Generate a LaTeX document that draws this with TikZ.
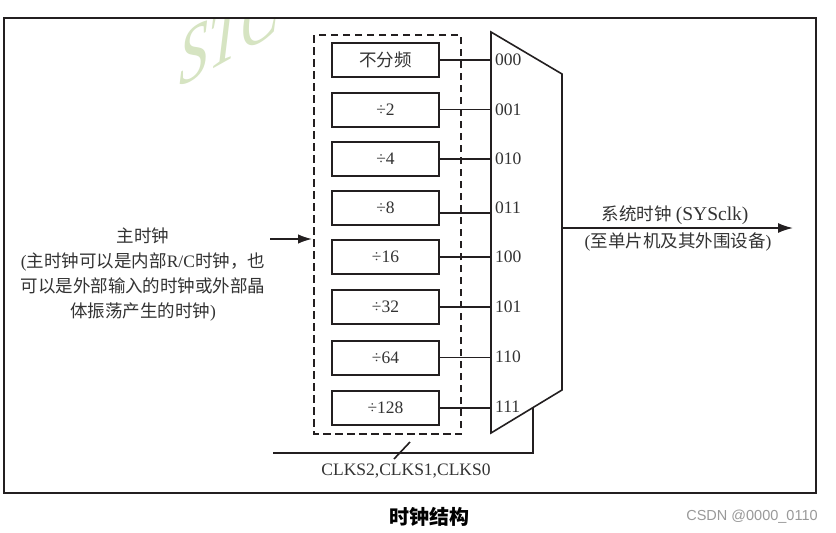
\documentclass[tikz,border=0pt]{standalone}
\usepackage{fontspec}
\setmainfont{Liberation Serif}
\newfontfamily\cjk{Noto Sans CJK SC}
\newfontfamily\sansf{Liberation Sans}
\usetikzlibrary{arrows.meta}
\definecolor{linec}{HTML}{231F20}
\definecolor{textc}{HTML}{333333}
\definecolor{wmc}{HTML}{D6E4C2}
\definecolor{csdnc}{HTML}{999999}
\tikzset{
  frame/.style={draw=linec, line width=2pt},
  divbox/.style={draw=linec, line width=2pt, minimum width=107pt, minimum height=34pt, inner sep=0pt, text=textc, font=\fontsize{17.5}{20}\selectfont},
  grp/.style={draw=linec, line width=1.1pt, dash pattern=on 7.5pt off 4.5pt},
  wire/.style={draw=linec, line width=1.6pt},
  muxs/.style={draw=linec, line width=1.6pt, line join=miter},
  sel/.style={font=\fontsize{17.5}{20}\selectfont, text=textc, anchor=west, inner sep=0pt},
  lbl/.style={text=textc, inner sep=0pt},
  arr/.style={draw=linec, line width=1.6pt, -{Latex[length=15pt,width=10pt]}},
  arrin/.style={draw=linec, line width=1.6pt, -{Latex[length=14pt,width=9.5pt]}},
}
\begin{document}
\begin{tikzpicture}[x=1pt,y=-1pt]
\useasboundingbox (0,0) rectangle (836,533);
\fill[white] (0,0) rectangle (836,533);
% watermark
\begin{scope}
\clip (5,19) rectangle (815,492);
\node[text=wmc, anchor=base west, inner sep=0pt, xscale=0.88, yscale=1.2, yslant=0.41, font=\fontsize{66}{66}\selectfont\itshape] (wm) at (179,88) {STC};
\end{scope}
% outer frame
\draw[frame] (4,18) rectangle (816,493);
% dashed group
\draw[grp] (314,35) rectangle (461,434);
% divider boxes
\foreach \i/\y/\t in {1/60/{\cjk 不分频}, 2/109.5/÷2, 3/159/÷4, 4/208/÷8, 5/257/÷16, 6/307/÷32, 7/357.5/÷64, 8/408/÷128}{
  \node[divbox] (b\i) at (385.5,\y) {\t};
}
% mux
\coordinate (m1) at (491,32);
\coordinate (m2) at (562,74);
\coordinate (m3) at (562,390);
\coordinate (m4) at (491,433);
\draw[muxs] (m1) -- (m2) -- (m3) -- (m4) -- cycle;
% wires into mux
\foreach \i in {1,2,3,5,6,7,8}{
  \draw[wire] (b\i.east) -- (b\i.east -| m1);
}
\draw[wire] ([yshift=-5pt]b4.east) -- ++(52,0);
% select codes
\foreach \i/\y/\t in {1/60/000, 2/109.5/001, 3/158.5/010, 4/208/011, 5/257/100, 6/307/101, 7/357/110, 8/407/111}{
  \node[sel] (c\i) at (495,\y) {\t};
}
% output arrow
\coordinate (mout) at (562,228);
\coordinate (oend) at (793,228);
\draw[arr] (mout) -- (oend);
% input arrow
\coordinate (iin) at (270,239);
\coordinate (iend) at (312,239);
\draw[arrin] (iin) -- (iend);
% select bus
\coordinate (s0) at (273,453);
\coordinate (s1) at (533,453);
\coordinate (s2) at (533,407.6);
\draw[wire] (s0) -- (s1) -- (s2);
\coordinate (k1) at (410,442);
\coordinate (k2) at (394,459);
\draw[wire] (k1) -- (k2);
% texts
\node[lbl, align=center, font=\fontsize{17.5}{25}\selectfont] (mainclk) at (143,275)
  {{\cjk 主时钟}\\({\cjk 主时钟可以是内部}R/C{\cjk 时钟，也}\\{\cjk 可以是外部输入的时钟或外部晶}\\{\cjk 体振荡产生的时钟})};
\node[lbl, font=\fontsize{17.5}{20}\selectfont] (sys) at (675,215) {{\cjk 系统时钟} {\fontsize{19.5}{20}\selectfont(SYSclk)}};
\node[lbl, font=\fontsize{17.5}{20}\selectfont] (sysd) at (678,242) {({\cjk 至单片机及其外围设备})};
\node[lbl, font=\fontsize{17.5}{20}\selectfont] (clks) at (406,471.5) {CLKS2,CLKS1,CLKS0};
\node[inner sep=0pt, text=black, font=\cjk\bfseries\fontsize{20}{24}\selectfont] (cap) at (429,517) {时钟结构};
\node[inner sep=0pt, text=csdnc, font=\sansf\fontsize{14.5}{17}\selectfont] (csdn) at (752,517) {CSDN @0000\_0110};
\end{tikzpicture}
\end{document}
